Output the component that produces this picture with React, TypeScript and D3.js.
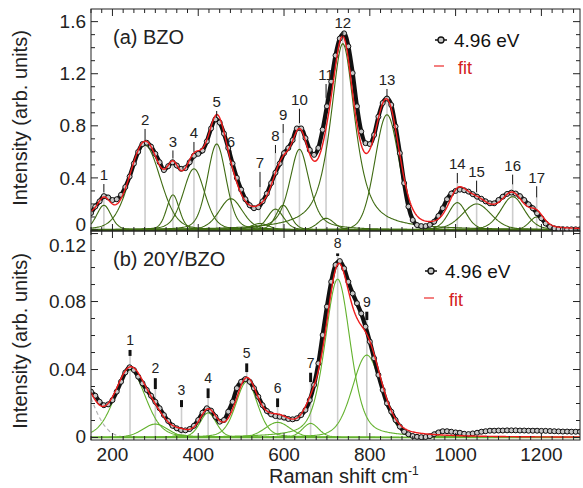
import React from "react";
import * as d3 from "d3";

const FONT = "'Liberation Sans', Arial, Helvetica, sans-serif";

// ---------- data ----------
const wavenumbers = d3.range(150, 1291, 10);

// (a) BZO measured spectrum (arb. units), 150..1290 step 10
const intensityBZO = [
  0.13, 0.18, 0.22, 0.26, 0.25, 0.23, 0.236, 0.27, 0.33, 0.41,
  0.51, 0.6, 0.66, 0.67, 0.64, 0.585, 0.52, 0.46, 0.49, 0.52,
  0.495, 0.47, 0.475, 0.52, 0.57, 0.585, 0.61, 0.68, 0.78, 0.85,
  0.825, 0.74, 0.63, 0.51, 0.4, 0.31, 0.236, 0.19, 0.167, 0.175,
  0.22, 0.28, 0.36, 0.44, 0.51, 0.59, 0.63, 0.69, 0.78, 0.78,
  0.705, 0.615, 0.577, 0.63, 0.77, 0.95, 1.14, 1.34, 1.47, 1.51,
  1.41, 1.205, 0.95, 0.756, 0.667, 0.66, 0.73, 0.87, 0.975, 1.01,
  0.96, 0.795, 0.59, 0.36, 0.18, 0.077, 0.038, 0.03, 0.03, 0.04,
  0.064, 0.108, 0.167, 0.236, 0.28, 0.3, 0.31, 0.305, 0.295, 0.275,
  0.256, 0.24, 0.22, 0.205, 0.205, 0.23, 0.256, 0.277, 0.287, 0.28,
  0.26, 0.23, 0.197, 0.167, 0.128, 0.09, 0.05, 0.025, 0.013, 0.008,
  0.006, 0.005, 0.005, 0.005, 0.005,
];

// (b) 20Y/BZO measured spectrum
const intensityY = [
  0.027, 0.0246, 0.021, 0.019, 0.0195, 0.022, 0.027, 0.0328, 0.0383, 0.0413,
  0.0397, 0.0358, 0.0319, 0.028, 0.0246, 0.021, 0.0172, 0.0132, 0.0097, 0.0069,
  0.0054, 0.0044, 0.0042, 0.005, 0.0069, 0.0103, 0.0146, 0.0172, 0.0158, 0.0122,
  0.0093, 0.0103, 0.0152, 0.021, 0.029, 0.0328, 0.0344, 0.0328, 0.029, 0.024,
  0.019, 0.0156, 0.0136, 0.0126, 0.0122, 0.0117, 0.0109, 0.0107, 0.0113, 0.0132,
  0.0162, 0.022, 0.0309, 0.0436, 0.0603, 0.077, 0.0916, 0.1015, 0.1038, 0.0995,
  0.0916, 0.0848, 0.079, 0.073, 0.0652, 0.0564, 0.0466, 0.0368, 0.028, 0.0201,
  0.0152, 0.0103, 0.0064, 0.0034, 0.0019, 0.0009, 0.0004, 0.0002, 0.0003, 0.0008,
  0.0019, 0.003, 0.0037, 0.0037, 0.0034, 0.003, 0.0028, 0.0022, 0.002, 0.0024,
  0.0028, 0.0034, 0.0037, 0.004, 0.004, 0.0041, 0.0041, 0.0042, 0.0042, 0.0042,
  0.0041, 0.0041, 0.004, 0.004, 0.004, 0.0039, 0.0039, 0.0038, 0.0037, 0.0036,
  0.0035, 0.0035, 0.0034, 0.0034, 0.0034,
];

// fitted components (a)
const peakNamesBZO = ["1","2","3","4","5","6","7","8","9","10","11","12","13","14","15","16","17"];
const centersBZO = [180, 276, 341, 390, 443, 476, 544, 580, 598, 636, 698, 737, 840, 1004, 1049, 1133, 1189];
const heightsBZO = [0.19, 0.65, 0.27, 0.47, 0.66, 0.24, 0.05, 0.16, 0.19, 0.62, 0.09, 1.43, 0.885, 0.21, 0.2, 0.256, 0.1];
const fwhmBZO = [40, 85, 35, 60, 52, 65, 50, 45, 40, 55, 45, 68, 66, 50, 80, 65, 40];
const etaBZO = [0.3, 0.2, 0.3, 0.3, 0.3, 0.3, 0.3, 0.3, 0.3, 0.6, 0.3, 0.75, 0.1, 0.3, 0.3, 0.3, 0.3];
const markBZO = [0.29, 0.685, 0.55, 0.6, 0.86, 0.54, 0.33, 0.59, 0.745, 0.82, 1.015, 1.482, 1.02, 0.36, 0.29, 0.35, 0.25];
const labelBZO = [0.422, 0.845, 0.68, 0.745, 0.983, 0.68, 0.515, 0.722, 0.883, 1.0, 1.19, 1.592, 1.152, 0.507, 0.448, 0.494, 0.405];
// low-frequency background term of the fit (not drawn separately)
const bgBZO = { c: 130, h: 0.1, w: 60, eta: 0 };

// fitted components (b)
const peakNamesY = ["1","2","3","4","5","6","7","8","9"];
const centersY = [241, 300, 361, 423, 513, 585, 662, 725, 793];
const heightsY = [0.0397, 0.0079, 0.0015, 0.0145, 0.0328, 0.0089, 0.0083, 0.0932, 0.0485];
const fwhmY = [85, 70, 40, 45, 60, 70, 45, 70, 80];
const etaY = [0.25, 0.25, 0.25, 0.25, 0.3, 0.25, 0.25, 0.4, 0.25];
const markY = [0.048, 0.0285, 0.0179, 0.0232, 0.0385, 0.0179, 0.0326, 0.1068, 0.0691];
const labelY = [0.0574, 0.0408, 0.0279, 0.0348, 0.0495, 0.0289, 0.044, 0.1142, 0.0799];
// low-frequency component (dashed gray)
const lowY = { c: 110, h: 0.04, w: 90, eta: 0 };

const xTickLabels = ["200", "400", "600", "800", "1000", "1200"];
const yTicksBZO = [0, 0.4, 0.8, 1.2, 1.6];
const yTickLabelsBZO = ["0", "0.4", "0.8", "1.2", "1.6"];
const yTicksY = [0, 0.04, 0.08, 0.12];
const yTickLabelsY = ["0", "0.04", "0.08", "0.12"];

// ---------- helpers ----------
function pv(x: number, c: number, h: number, w: number, eta: number) {
  const g = w / 2;
  const r2 = ((x - c) / g) ** 2;
  return h * (eta / (1 + r2) + (1 - eta) * Math.exp(-Math.LN2 * r2));
}

const LEFT = 91, RIGHT = 580;
const x = d3.scaleLinear().domain([150, 1290]).range([LEFT, RIGHT]);
const grid = d3.range(150, 1290.01, 2);

type PanelProps = {
  id: string;
  top: number; bottom: number; yDomain: [number, number];
  yTicks: number[]; yTickLabels: string[]; yMinor: number;
  labelMin: number; labelMax: number; titleY: number;
  obs: number[];
  names: string[]; centers: number[]; heights: number[]; fwhm: number[]; eta: number[];
  marks: number[]; labelVals: number[];
  extra: { c: number; h: number; w: number; eta: number };
  extraDashed: boolean;
  compColor: string; thickMarks: boolean; labelFont: number; baseW: number;
  title: string; legend: { mx: number; my: number; tx: number; fy: number; fx: number };
};

function Panel(p: PanelProps) {
  const y = d3.scaleLinear().domain(p.yDomain).range([p.bottom, p.top]);
  const comps = p.centers.map((c, i) => grid.map((v) => [v, pv(v, c, p.heights[i], p.fwhm[i], p.eta[i])] as [number, number]));
  const extraCurve = grid.map((v) => [v, pv(v, p.extra.c, p.extra.h, p.extra.w, p.extra.eta)] as [number, number]);
  const fit = grid.map((v, k) => {
    let s = extraCurve[k][1];
    comps.forEach((cc) => (s += cc[k][1]));
    return [v, s] as [number, number];
  });
  const line = d3.line<[number, number]>().x((d) => x(d[0])).y((d) => y(d[1]));
  const obsPts = wavenumbers.map((v, i) => [v, p.obs[i]] as [number, number]);
  const obsLine = d3.line<[number, number]>().x((d) => x(d[0])).y((d) => y(d[1])).curve(d3.curveMonotoneX);
  const y0 = y(0);
  const xTicks = d3.range(150, 1291, 25);
  const yMinorTicks = d3.range(0, p.yDomain[1] + 1e-9, p.yMinor);
  const clip = `clip-${p.id}`;
  const W = RIGHT - LEFT, Hh = p.bottom - p.top;
  return (
    <g>
      <defs>
        <clipPath id={clip}>
          <rect x={LEFT} y={p.top} width={W} height={Hh} />
        </clipPath>
      </defs>
      <g clipPath={`url(#${clip})`}>
        {p.centers.map((c, i) => (
          <line key={"g" + i} x1={x(c)} x2={x(c)} y1={y0} y2={y(p.marks[i])} stroke="#cdcdcd" strokeWidth={1.6} />
        ))}
        {p.extraDashed && (
          <path d={line(extraCurve) || ""} fill="none" stroke="#b5b5b5" strokeWidth={1.2} strokeDasharray="4,3" />
        )}
        {comps.map((cc, i) => (
          <path key={"c" + i} d={line(cc) || ""} fill="none" stroke={p.compColor} strokeWidth={1.1} />
        ))}
        <line x1={LEFT} x2={RIGHT} y1={y0} y2={y0} stroke={p.compColor} strokeWidth={p.baseW} />
        <path d={obsLine(obsPts) || ""} fill="none" stroke="#111" strokeWidth={4.2} />
        {obsPts.map((d, i) => (
          <circle key={"o" + i} cx={x(d[0])} cy={y(d[1])} r={2.5} fill="#c8c8c8" stroke="#111" strokeWidth={1} />
        ))}
        <path d={line(fit) || ""} fill="none" stroke="#ee1c1c" strokeWidth={1.4} />
      </g>
      {p.centers.map((c, i) => {
        const ly = y(p.labelVals[i]);
        const tb = y(p.marks[i]);
        const tt = ly + (p.thickMarks ? 10 : 9);
        return (
          <g key={"m" + i}>
            <line x1={x(c)} x2={x(c)} y1={tb} y2={tt} stroke="#111" strokeWidth={p.thickMarks ? 3 : 1} />
            <text x={x(c)} y={ly} dy="0.35em" textAnchor="middle" fontSize={p.labelFont} fill="#222" fontFamily={FONT}>
              {p.names[i]}
            </text>
          </g>
        );
      })}
      <rect x={LEFT} y={p.top} width={W} height={Hh} fill="none" stroke="#222" strokeWidth={1} />
      {xTicks.map((v) => {
        const len = v % 200 === 0 ? 7 : 4;
        return (
          <g key={"xt" + v}>
            <line x1={x(v)} x2={x(v)} y1={p.top} y2={p.top + len} stroke="#222" strokeWidth={1} />
            <line x1={x(v)} x2={x(v)} y1={p.bottom} y2={p.bottom - len} stroke="#222" strokeWidth={1} />
          </g>
        );
      })}
      {yMinorTicks.map((v, i) => {
        const major = p.yTicks.some((t) => Math.abs(t - v) < 1e-9);
        const len = major ? 7 : 4;
        return (
          <g key={"yt" + i}>
            <line x1={LEFT} x2={LEFT + len} y1={y(v)} y2={y(v)} stroke="#222" strokeWidth={1} />
            <line x1={RIGHT} x2={RIGHT - len} y1={y(v)} y2={y(v)} stroke="#222" strokeWidth={1} />
          </g>
        );
      })}
      {p.yTicks.map((v, i) => {
        const cy = Math.max(p.labelMin, Math.min(p.labelMax, y(v)));
        return (
          <text key={"yl" + i} x={LEFT - 5} y={cy} dy="0.35em" textAnchor="end" fontSize={19} fill="#222" fontFamily={FONT}>
            {p.yTickLabels[i]}
          </text>
        );
      })}
      <text
        transform={`translate(20,${p.titleY}) rotate(-90)`}
        textAnchor="middle"
        dy="0.35em"
        fontSize={20}
        fill="#222"
        fontFamily={FONT}
      >
        Intensity (arb. units)
      </text>
      <text x={113} y={p.top + 28} dy="0.35em" fontSize={20} fill="#222" fontFamily={FONT}>
        {p.title}
      </text>
      <line x1={p.legend.mx - 6} x2={p.legend.mx + 6} y1={p.legend.my} y2={p.legend.my} stroke="#111" strokeWidth={1.5} />
      <circle cx={p.legend.mx} cy={p.legend.my} r={3} fill="#c8c8c8" stroke="#111" strokeWidth={1.3} />
      <text x={p.legend.tx} y={p.legend.my} dy="0.35em" fontSize={19} fill="#111" fontFamily={FONT}>
        4.96 eV
      </text>
      <line x1={p.legend.mx - 7} x2={p.legend.mx + 3} y1={p.legend.fy - 2} y2={p.legend.fy - 2} stroke="#f06060" strokeWidth={1.6} />
      <text x={p.legend.fx} y={p.legend.fy} dy="0.35em" fontSize={18} fill="#d42020" fontFamily={FONT}>
        fit
      </text>
    </g>
  );
}

export default function App() {
  return (
    <svg width={583} height={488} style={{ position: "absolute", left: 0, top: 0, background: "#fff" }} fontFamily={FONT}>
      <rect x={0} y={0} width={583} height={488} fill="#fff" />
      <Panel
        id="a"
        top={9}
        bottom={231}
        yDomain={[-0.0077, 1.697]}
        yTicks={yTicksBZO}
        yTickLabels={yTickLabelsBZO}
        yMinor={0.1}
        labelMin={20}
        labelMax={224}
        titleY={118}
        obs={intensityBZO}
        names={peakNamesBZO}
        centers={centersBZO}
        heights={heightsBZO}
        fwhm={fwhmBZO}
        eta={etaBZO}
        marks={markBZO}
        labelVals={labelBZO}
        extra={bgBZO}
        extraDashed={false}
        compColor="#3f6b12"
        thickMarks={false}
        labelFont={15}
        baseW={2.6}
        title="(a) BZO"
        legend={{ mx: 441, my: 40, tx: 454, fy: 68, fx: 458 }}
      />
      <Panel
        id="b"
        top={231}
        bottom={440}
        yDomain={[-0.00147, 0.1215]}
        yTicks={yTicksY}
        yTickLabels={yTickLabelsY}
        yMinor={0.01}
        labelMin={245}
        labelMax={436}
        titleY={341}
        obs={intensityY}
        names={peakNamesY}
        centers={centersY}
        heights={heightsY}
        fwhm={fwhmY}
        eta={etaY}
        marks={markY}
        labelVals={labelY}
        extra={lowY}
        extraDashed={true}
        compColor="#63b22e"
        thickMarks={true}
        labelFont={14}
        baseW={1.6}
        title="(b) 20Y/BZO"
        legend={{ mx: 431, my: 271, tx: 445, fy: 300, fx: 449 }}
      />
      {xTickLabels.map((t) => (
        <text key={t} x={x(+t)} y={454} dy="0.35em" textAnchor="middle" fontSize={19} fill="#222" fontFamily={FONT}>
          {t}
        </text>
      ))}
      <text x={269} y={476} dy="0.35em" fontSize={20} fill="#222" fontFamily={FONT}>
        Raman shift cm
        <tspan fontSize={12} dy="-8">-1</tspan>
      </text>
    </svg>
  );
}
